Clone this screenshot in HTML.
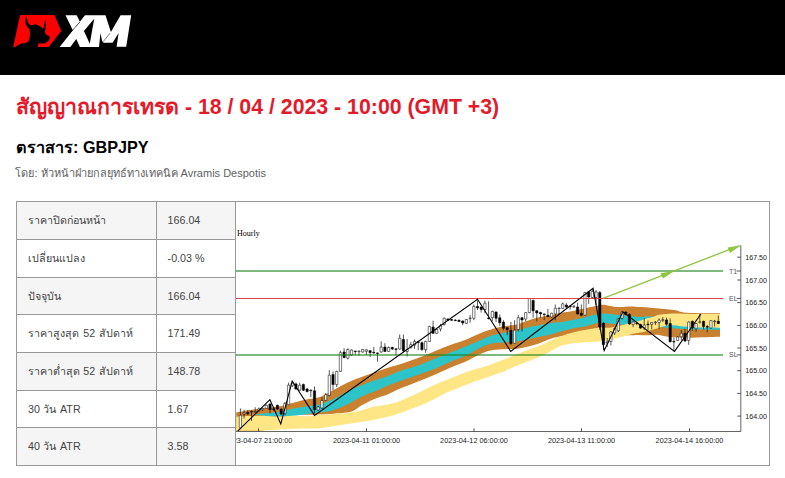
<!DOCTYPE html>
<html lang="th"><head><meta charset="utf-8"><title>XM</title>
<style>
html,body{margin:0;padding:0;background:#fff;}
body{width:785px;height:478px;overflow:hidden;position:relative;font-family:"Liberation Sans",sans-serif;}
.hdr{position:absolute;left:0;top:0;width:785px;height:75px;background:#000;}
.hdr svg{position:absolute;left:0;top:0;}
h1,h2,.by{position:absolute;left:16px;margin:0;white-space:nowrap;}
h1{top:92px;font-size:21.3px;line-height:30px;font-weight:bold;color:#e21b2b;}
h2{top:135px;font-size:16.2px;line-height:24px;font-weight:bold;color:#000;}
.by{left:15.4px;top:165px;font-size:11px;line-height:16px;color:#626262;}
.r{position:absolute;left:17px;width:218px;border-bottom:1px solid #999;background:#fff;font-size:10.7px;color:#444;white-space:nowrap;}
.r.g{background:#f5f5f5;}
.c1{position:absolute;left:0;top:0;width:140px;height:100%;border-right:1px solid #999;box-sizing:border-box;padding-left:11px;}
.c2{position:absolute;left:140px;top:0;width:78px;height:100%;box-sizing:border-box;padding-left:10.6px;}
.frame{position:absolute;left:16px;top:201px;width:754px;height:265px;border:1px solid #999;box-sizing:border-box;}
.vline{position:absolute;left:235px;top:201px;width:1px;height:265px;background:#999;}
.chart{position:absolute;left:236px;top:202px;width:533px;height:263px;overflow:hidden;}
</style></head><body>
<div class="hdr"><svg width="160" height="75" viewBox="0 0 160 75"><path d="M20.1 15.1 L54.4 15.1 L61.3 30.9 L48.7 47 L13.2 47 Z" fill="#f00"/><path d="M26.31 15.58C26.2 16.3 25.5 18.7 25.4 19.9C25.2 21.2 25.3 22.1 25.5 23.1C25.7 24.1 26.2 25.1 26.7 25.9C27.2 26.7 27.8 27.2 28.3 27.9C28.8 28.6 29.4 29.1 29.6 30.3C29.9 31.5 30.0 33.6 29.9 35.1C29.8 36.5 29.4 37.9 29.1 39.0C28.8 40.2 28.6 41.1 27.9 41.8C27.2 42.5 25.8 42.9 24.7 43.2C23.7 43.4 22.5 43.2 21.5 43.4C20.6 43.6 20.2 44.0 19.2 44.6C18.1 45.2 15.8 46.6 15.2 47.0L37.84 46.98C37.9 46.6 37.8 45.2 38.1 44.6C38.3 44.0 38.5 43.4 39.4 43.2C40.4 43.1 42.5 43.7 43.8 43.5C45.1 43.3 46.1 42.9 47.0 42.3C47.9 41.7 48.7 40.6 49.2 39.8C49.7 39.0 49.8 38.1 49.8 37.4C49.7 36.8 49.6 36.3 49.0 35.9C48.4 35.4 46.9 35.3 46.2 34.7C45.5 34.0 45.1 32.8 45.0 31.9C44.9 31.0 45.3 30.4 45.4 29.1C45.5 27.8 45.8 25.6 45.8 23.9C45.8 22.3 45.5 20.0 45.4 19.2C45.2 20.0 44.5 22.4 44.2 23.9C43.9 25.5 44.0 27.8 43.4 28.3C42.8 28.8 41.6 27.2 40.6 26.7C39.6 26.2 38.4 25.5 37.4 25.1C36.5 24.7 36.0 24.3 35.1 24.3C34.1 24.3 32.7 25.1 31.9 25.1C31.0 25.2 30.6 25.2 29.9 24.7C29.2 24.3 28.4 23.4 27.9 22.3C27.4 21.3 27.4 19.5 27.1 18.4C26.8 17.2 26.4 16.0 26.3 15.6Z" fill="#000"/><path d="M65.5 15.3 L76.7 15.3 L80 22 L76.3 26.5 L72.7 29.9 ZM59.6 47 L70.3 47 L76.3 39 L79.9 47 L99 47 L100.5 33.1 L102 40.7 L103.5 42.7 L112.6 42.7 L118.6 33.1 L116.6 46.7 L126.2 46.7 L131.2 15.3 L120.6 15.3 L110.9 32.1 L105.5 15.3 L85 15.3 Z" fill="#fff"/><path d="M94.2 18.8 L83.9 31.1 L89.8 43.8 Z" fill="#000"/><path d="M72.7 29.9 L79.6 22.2 M110.2 33 L103.2 41.6" stroke="#000" stroke-width="0.5" fill="none"/></svg></div>
<h1><span>สัญญาณการเทรด</span> - 18 / 04 / 2023 - 10:00 (GMT +3)</h1>
<h2><span>ตราสาร</span>: GBPJPY</h2>
<div class="by"><span>โดย:</span> <span>หัวหน้าฝ่ายกลยุทธ์ทางเทคนิค</span> Avramis Despotis</div>
<div class="r g" style="top:202px;height:37px"><div class="c1" style="line-height:37px"><span>ราคาปิดก่อนหน้า</span></div><div class="c2" style="line-height:37px">166.04</div></div><div class="r" style="top:240px;height:37px"><div class="c1" style="line-height:37px"><span>เปลี่ยนแปลง</span></div><div class="c2" style="line-height:37px">-0.03 %</div></div><div class="r g" style="top:278px;height:36px"><div class="c1" style="line-height:36px"><span>ปัจจุบัน</span></div><div class="c2" style="line-height:36px">166.04</div></div><div class="r" style="top:315px;height:37px"><div class="c1" style="line-height:37px"><span style="margin-right:1.3px">ราคาสูงสุด</span> 52 <span style="margin-left:0.5px">สัปดาห์</span></div><div class="c2" style="line-height:37px">171.49</div></div><div class="r g" style="top:353px;height:37px"><div class="c1" style="line-height:37px"><span style="margin-right:0.4px">ราคาต่ำสุด</span> 52 <span style="margin-left:0.8px">สัปดาห์</span></div><div class="c2" style="line-height:37px">148.78</div></div><div class="r" style="top:391px;height:36px"><div class="c1" style="line-height:36px">30 <span style="margin-left:0.5px;margin-right:0.7px">วัน</span> ATR</div><div class="c2" style="line-height:36px">1.67</div></div><div class="r g" style="top:428px;height:37px"><div class="c1" style="line-height:37px">40 <span style="margin-left:0.5px;margin-right:0.7px">วัน</span> ATR</div><div class="c2" style="line-height:37px">3.58</div></div>
<div class="chart"><svg width="533" height="263" viewBox="236 202 533 263" font-family="Liberation Sans, sans-serif"><rect x="236" y="202" width="533" height="263" fill="#fff"/><path d="M236.2 412.4C238.3 412.0 244.1 410.9 248.6 410.2C253.1 409.5 258.4 408.9 263.3 408.3C268.2 407.7 273.0 407.5 277.9 406.6C282.8 405.7 287.6 404.1 292.5 402.9C297.4 401.7 302.6 400.3 307.2 399.3C311.8 398.3 315.6 398.4 320.0 396.9C324.4 395.4 329.1 392.5 333.6 390.1C338.1 387.7 342.7 384.9 347.2 382.7C351.7 380.5 356.3 378.9 360.8 377.2C365.3 375.5 369.9 374.1 374.4 372.5C378.9 370.9 383.7 369.1 388.0 367.7C392.3 366.3 395.2 365.8 400.0 364.3C404.8 362.8 411.1 360.6 416.7 358.5C422.3 356.4 427.9 354.0 433.5 351.8C439.1 349.6 444.6 347.2 450.2 345.1C455.8 343.0 461.7 341.2 466.9 339.2C472.1 337.1 477.1 334.5 481.5 332.8C485.9 331.1 489.2 330.0 493.0 328.8C496.8 327.6 500.7 326.6 504.5 325.9C508.3 325.2 512.2 325.6 516.0 324.7C519.8 323.8 523.7 321.9 527.5 320.7C531.3 319.5 535.1 318.2 539.0 317.3C542.9 316.4 546.9 316.2 550.6 315.5C554.4 314.8 557.8 313.5 561.5 312.8C565.2 312.1 569.2 311.9 573.0 311.1C576.8 310.3 580.7 309.1 584.5 308.2C588.3 307.3 592.9 306.5 596.0 305.9C599.1 305.3 600.6 304.8 602.9 304.8C605.2 304.8 607.1 305.5 609.8 305.9C612.5 306.3 615.6 307.0 619.1 307.1C622.6 307.2 627.1 306.5 630.6 306.5C634.1 306.5 637.0 306.9 640.0 307.1C643.0 307.3 645.2 307.3 648.3 307.5C651.4 307.7 655.2 308.2 658.7 308.5C662.2 308.8 666.3 309.2 669.2 309.5C672.1 309.8 673.5 309.8 676.0 310.3C678.5 310.8 680.2 312.1 684.0 312.6C687.8 313.1 692.5 313.1 698.5 313.2C704.5 313.3 716.4 313.2 720.0 313.2L720.0 336.7C716.4 336.8 704.5 337.2 698.5 337.4C692.5 337.6 688.9 337.8 684.0 337.7C679.1 337.6 673.4 337.5 669.2 337.0C665.0 336.5 662.2 335.2 658.7 334.9C655.2 334.6 651.8 335.2 648.3 335.2C644.8 335.2 641.3 334.9 637.8 334.9C634.3 334.9 632.0 335.4 627.4 335.2C622.8 335.0 614.8 334.0 610.0 333.5C605.2 333.0 602.7 332.1 598.6 332.0C594.5 331.9 591.8 332.2 585.4 333.0C579.0 333.8 565.8 335.5 560.0 336.5C554.2 337.5 554.1 337.7 550.6 338.8C547.1 339.9 542.9 342.1 539.0 343.4C535.1 344.7 531.3 345.9 527.5 346.8C523.7 347.7 519.8 348.5 516.0 348.9C512.2 349.3 508.3 349.0 504.5 349.2C500.7 349.4 496.8 349.3 493.0 350.0C489.2 350.7 485.9 351.7 481.5 353.5C477.1 355.3 472.1 358.6 466.9 361.0C461.7 363.4 455.8 365.3 450.2 367.7C444.6 370.1 439.1 372.8 433.5 375.2C427.9 377.6 422.3 379.7 416.7 381.9C411.1 384.1 404.8 386.6 400.0 388.6C395.2 390.7 392.3 392.5 388.0 394.2C383.7 395.9 378.9 397.1 374.4 399.0C369.9 400.9 364.2 403.9 360.8 405.8C357.4 407.7 356.3 409.4 354.0 410.5C351.7 411.6 350.6 412.1 347.2 412.6C343.8 413.1 338.1 413.4 333.6 413.7C329.1 414.0 323.4 414.4 320.0 414.6C316.6 414.8 318.1 414.6 312.9 414.8C307.7 415.0 294.2 414.5 288.7 416.0C283.2 417.5 284.8 421.5 280.0 424.0C275.2 426.5 267.3 429.8 260.0 431.0C252.7 432.2 240.2 431.0 236.2 431.0Z" fill="#c9802f"/><path d="M256.0 414.6C257.2 414.4 259.7 414.0 263.3 413.6C266.9 413.2 273.0 412.9 277.9 412.1C282.8 411.3 287.6 409.8 292.5 408.8C297.4 407.8 302.6 407.0 307.2 406.3C311.8 405.6 315.6 405.6 320.0 404.4C324.4 403.2 329.1 401.1 333.6 399.0C338.1 396.9 342.7 393.8 347.2 391.5C351.7 389.2 356.3 387.2 360.8 385.4C365.3 383.6 369.9 382.2 374.4 380.6C378.9 379.0 383.7 377.5 388.0 375.9C392.3 374.3 395.2 372.6 400.0 371.0C404.8 369.4 411.1 367.9 416.7 366.0C422.3 364.1 427.9 361.5 433.5 359.3C439.1 357.1 444.6 354.8 450.2 352.6C455.8 350.4 461.7 348.0 466.9 345.9C472.1 343.8 477.1 341.5 481.5 339.7C485.9 337.9 489.2 336.2 493.0 335.1C496.8 334.0 500.7 333.5 504.5 332.8C508.3 332.1 512.2 332.0 516.0 331.1C519.8 330.2 523.7 328.6 527.5 327.6C531.3 326.6 535.1 326.1 539.0 325.3C542.9 324.5 546.9 323.6 550.6 323.0C554.4 322.4 557.8 322.6 561.5 322.0C565.2 321.4 569.2 320.5 573.0 319.7C576.8 318.9 580.7 318.2 584.5 317.4C588.3 316.5 592.9 315.3 596.0 314.6C599.1 313.9 600.6 313.5 602.9 313.4C605.2 313.3 607.1 313.7 609.8 314.0C612.5 314.3 615.6 314.7 619.1 315.1C622.6 315.5 627.1 316.0 630.6 316.3C634.1 316.6 637.0 316.8 640.0 316.9C643.0 316.9 645.9 316.6 648.3 316.6C650.7 316.6 652.3 316.4 654.6 317.0C656.9 317.6 659.5 319.0 662.0 320.0C664.5 321.0 665.6 322.2 669.3 323.0C673.0 323.8 679.1 324.5 684.0 325.0C688.9 325.5 692.5 325.8 698.5 326.0C704.5 326.2 716.4 326.4 720.0 326.5L720.0 329.7C716.4 329.7 704.5 329.6 698.5 329.5C692.5 329.4 688.9 329.3 684.0 329.0C679.1 328.7 674.2 328.3 669.3 327.9C664.4 327.5 659.5 326.9 654.6 326.5C649.7 326.1 644.5 325.8 640.0 325.5C635.5 325.2 630.9 324.9 627.4 324.8C623.9 324.7 622.0 324.8 619.1 324.6C616.2 324.4 612.5 323.9 609.8 323.6C607.1 323.3 605.2 323.0 602.9 322.9C600.6 322.8 599.1 322.6 596.0 323.2C592.9 323.8 588.3 325.7 584.5 326.6C580.7 327.5 576.8 327.6 573.0 328.4C569.2 329.2 565.2 330.3 561.5 331.3C557.8 332.3 554.4 333.5 550.6 334.4C546.9 335.3 542.9 336.0 539.0 336.8C535.1 337.6 531.3 338.6 527.5 339.4C523.7 340.2 519.8 340.9 516.0 341.4C512.2 341.9 508.3 342.3 504.5 342.6C500.7 342.9 496.8 342.5 493.0 343.2C489.2 343.9 485.9 345.0 481.5 347.0C477.1 349.0 472.1 352.6 466.9 355.1C461.7 357.6 455.8 359.4 450.2 361.8C444.6 364.2 439.1 367.1 433.5 369.3C427.9 371.5 422.3 373.2 416.7 375.2C411.1 377.1 404.8 379.3 400.0 381.0C395.2 382.7 392.3 383.6 388.0 385.4C383.7 387.1 378.9 389.6 374.4 391.5C369.9 393.4 365.3 394.8 360.8 396.9C356.3 399.0 351.7 402.2 347.2 404.4C342.7 406.6 338.1 408.5 333.6 409.9C329.1 411.3 324.4 411.9 320.0 412.6C315.6 413.3 311.8 413.4 307.2 413.9C302.6 414.4 297.4 415.3 292.5 415.7C287.6 416.1 282.8 416.5 277.9 416.5C273.0 416.5 266.9 415.9 263.3 415.7C259.7 415.5 257.2 415.2 256.0 415.1Z" fill="#2cc3c9"/><path d="M236.2 416.8C238.3 416.7 244.1 416.3 248.6 416.1C253.1 415.9 258.4 415.6 263.3 415.7C268.2 415.8 273.0 416.5 277.9 416.5C282.8 416.5 287.6 415.8 292.5 415.7C297.4 415.6 302.6 416.3 307.2 416.2C311.8 416.1 315.6 415.2 320.0 414.8C324.4 414.4 329.1 414.2 333.6 413.9C338.1 413.6 343.8 413.2 347.2 412.9C350.6 412.6 351.7 412.3 354.0 411.9C356.3 411.5 357.4 411.4 360.8 410.5C364.2 409.6 369.9 407.5 374.4 406.5C378.9 405.5 383.7 405.3 388.0 404.4C392.3 403.5 395.2 402.9 400.0 401.1C404.8 399.3 411.1 396.2 416.7 393.6C422.3 391.0 427.9 387.7 433.5 385.2C439.1 382.7 444.6 380.7 450.2 378.5C455.8 376.3 461.7 373.6 466.9 371.8C472.1 370.0 477.1 368.8 481.5 367.5C485.9 366.2 489.2 365.2 493.0 363.8C496.8 362.4 500.7 360.7 504.5 359.2C508.3 357.7 512.2 356.1 516.0 354.6C519.8 353.1 523.7 351.4 527.5 350.0C531.3 348.6 535.2 347.4 539.0 345.9C542.8 344.4 546.2 342.5 550.0 340.8C553.8 339.1 557.7 337.3 561.5 335.9C565.3 334.5 569.2 333.4 573.0 332.4C576.8 331.4 580.7 330.8 584.5 330.1C588.3 329.4 592.9 328.4 596.0 328.0C599.1 327.6 600.6 327.6 602.9 327.5C605.2 327.4 607.1 327.9 609.8 327.7C612.5 327.4 615.6 326.8 619.1 326.0C622.6 325.2 627.1 323.7 630.6 322.8C634.1 321.9 637.0 321.6 640.0 320.8C643.0 320.0 645.9 318.7 648.3 318.0C650.7 317.3 652.9 316.9 654.6 316.4C656.3 315.9 656.3 315.2 658.7 314.8C661.1 314.4 665.0 313.9 669.2 313.7C673.4 313.5 679.1 313.6 684.0 313.7C688.9 313.8 692.5 313.9 698.5 314.0C704.5 314.1 716.4 314.0 720.0 314.0L720.0 327.9C716.4 327.8 704.5 327.7 698.5 327.5C692.5 327.3 688.9 326.9 684.0 326.5C679.1 326.1 673.4 324.8 669.2 325.0C665.0 325.2 662.2 326.9 658.7 327.9C655.2 328.8 651.4 329.9 648.3 330.7C645.2 331.5 643.0 332.0 640.0 332.6C637.0 333.2 634.1 333.6 630.6 334.4C627.1 335.2 622.6 336.5 619.1 337.4C615.6 338.3 612.5 339.3 609.8 339.9C607.1 340.5 605.2 340.7 602.9 341.0C600.6 341.3 599.1 341.6 596.0 341.8C592.9 342.0 588.3 341.9 584.5 342.2C580.7 342.4 576.8 342.7 573.0 343.3C569.2 343.9 565.2 344.3 561.5 345.6C557.8 346.9 554.4 349.3 550.6 351.2C546.9 353.1 542.9 355.2 539.0 356.9C535.1 358.6 531.3 360.0 527.5 361.5C523.7 363.0 519.8 364.5 516.0 366.1C512.2 367.7 508.3 369.8 504.5 371.3C500.7 372.8 496.8 374.0 493.0 375.3C489.2 376.6 485.9 377.8 481.5 379.3C477.1 380.8 472.1 382.4 466.9 384.4C461.7 386.4 455.8 388.6 450.2 391.1C444.6 393.6 438.2 397.1 433.5 399.4C428.8 401.7 425.6 403.4 421.7 405.0C417.8 406.6 413.4 407.9 410.0 409.2C406.6 410.5 405.3 411.4 401.6 412.6C397.9 413.9 392.5 415.6 388.0 416.7C383.5 417.8 378.9 418.5 374.4 419.4C369.9 420.3 365.3 421.3 360.8 422.1C356.3 422.9 351.7 423.4 347.2 424.1C342.7 424.8 338.1 425.5 333.6 426.2C329.1 426.9 324.4 427.8 320.0 428.2C315.6 428.6 311.8 428.3 307.2 428.4C302.6 428.5 297.4 428.5 292.5 428.7C287.6 428.9 282.8 429.3 277.9 429.6C273.0 429.9 268.2 430.2 263.3 430.4C258.4 430.6 253.1 430.7 248.6 430.8C244.1 430.9 238.3 430.9 236.2 430.9Z" fill="#ffe684"/><path d="M240.4 408.4V428.5M244.1 409.7V418.5M247.8 410.0V415.0M251.5 410.3V421.0M255.2 407.2V412.8M258.9 407.5V411.5M262.6 407.5V411.0M266.3 404.5V409.0M270.0 403.4V413.4M273.7 407.0V411.0M277.4 404.5V410.0M281.2 408.5V415.3M284.9 402.1V415.3M288.6 382.7V405.3M292.3 381.0V387.0M296.0 382.5V390.0M299.7 382.7V390.8M303.4 383.5V391.0M307.1 388.0V392.5M310.8 389.5V397.1M314.5 386.4V413.4M318.2 406.0V411.0M321.9 397.0V409.0M325.6 393.0V401.0M329.3 370.2V396.5M333.0 371.4V390.3M336.7 370.8V387.1M340.4 350.7V372.0M344.1 348.2V358.2M347.8 348.5V359.5M351.6 349.4V356.0M355.3 350.7V355.1M359.0 350.7V355.7M362.7 349.0V352.6M366.4 349.4V355.1M370.1 350.0V357.0M373.8 346.9V353.8M377.5 352.6V361.6M381.2 341.3V352.6M384.9 343.2V352.0M388.6 346.5V352.0M392.3 346.8V350.0M396.0 348.5V355.2M399.7 334.5V349.6M403.4 334.5V352.1M407.1 339.0V356.5M410.8 342.0V348.3M414.5 339.5V349.0M418.2 340.8V350.2M421.9 341.4V350.8M425.6 340.8V352.7M429.4 325.7V342.0M433.1 320.7V333.9M436.8 328.5V334.0M440.5 323.8V331.4M444.2 317.5V325.5M447.9 318.4V321.0M451.6 319.0V321.0M455.3 319.3V321.2M459.0 319.6V322.0M462.7 320.4V325.2M466.4 319.0V324.0M470.1 315.1V322.7M473.8 304.5V320.2M477.5 300.7V310.1M481.2 306.4V312.6M484.9 300.7V313.3M488.6 301.3V319.5M492.3 310.7V321.4M496.0 311.4V322.0M499.8 314.5V325.8M503.5 320.2V330.2M507.2 327.2V335.2M510.9 322.0V345.0M514.6 320.2V344.0M518.3 315.1V331.5M522.0 317.0V331.5M525.7 312.0V321.4M529.4 298.2V313.3M533.1 299.5V317.7M536.8 310.1V321.4M540.5 311.8V317.7M544.2 313.5V320.2M547.9 308.9V317.0M551.6 312.7V317.7M555.3 304.5V320.2M559.0 307.6V313.9M562.7 302.6V308.9M566.4 303.2V308.9M570.1 305.7V309.5M573.9 305.4V308.0M577.6 302.6V314.5M581.3 304.5V316.4M585.0 291.9V315.8M588.7 291.3V303.9M592.4 289.5V299.0M596.1 290.0V305.1M599.8 291.0V330.0M603.5 322.0V350.0M607.2 338.0V347.0M610.9 331.0V345.5M614.6 327.5V335.0M618.3 318.0V332.0M622.0 311.2V319.5M625.7 311.4V315.2M629.4 313.3V325.0M633.1 321.4V327.1M636.8 322.0V325.0M640.5 323.8V329.0M644.2 318.4V330.1M648.0 320.6V330.1M651.7 322.0V329.4M655.4 321.0V325.0M659.1 318.4V328.7M662.8 317.0V322.1M666.5 317.7V325.7M670.2 318.4V342.4M673.9 337.4V351.3M677.6 336.0V341.1M681.3 330.1V340.4M685.0 328.7V341.8M688.7 321.3V344.8M692.4 320.5V330.9M696.1 322.8V331.6M699.8 314.0V323.5M703.5 320.6V329.4M707.2 325.0V332.3M710.9 320.0V328.7M714.6 319.9V326.5M718.3 315.5V324.0" stroke="#111" stroke-width="0.7" fill="none"/><path d="M239.25 415.3h2.3v12.6h-2.3zM242.96 412.8h2.3v1.3h-2.3zM254.07 411.4h2.3v0.6h-2.3zM257.78 409.0h2.3v1.9h-2.3zM261.48 408.4h2.3v1.3h-2.3zM265.19 405.3h2.3v3.1h-2.3zM283.71 403.4h2.3v10.0h-2.3zM287.42 385.2h2.3v19.5h-2.3zM291.12 383.3h2.3v2.5h-2.3zM298.53 385.2h2.3v5.0h-2.3zM317.06 407.0h2.3v3.0h-2.3zM320.76 400.5h2.3v7.5h-2.3zM324.47 394.8h2.3v5.5h-2.3zM328.17 375.2h2.3v20.3h-2.3zM335.58 371.4h2.3v13.2h-2.3zM339.29 352.6h2.3v18.8h-2.3zM346.70 349.4h2.3v8.8h-2.3zM350.40 350.0h2.3v5.0h-2.3zM357.81 351.0h2.3v0.6h-2.3zM361.52 349.4h2.3v2.6h-2.3zM365.22 349.8h2.3v1.5h-2.3zM380.04 347.0h2.3v5.0h-2.3zM387.45 347.4h2.3v4.0h-2.3zM398.57 338.3h2.3v10.7h-2.3zM405.98 349.6h2.3v1.9h-2.3zM409.68 344.6h2.3v3.1h-2.3zM413.38 341.4h2.3v3.8h-2.3zM424.50 341.4h2.3v8.2h-2.3zM428.21 326.4h2.3v15.0h-2.3zM435.62 329.5h2.3v3.8h-2.3zM439.32 325.7h2.3v3.2h-2.3zM443.03 318.2h2.3v6.3h-2.3zM465.25 319.5h2.3v3.8h-2.3zM468.96 318.0h2.3v0.6h-2.3zM472.67 306.4h2.3v11.9h-2.3zM483.78 303.2h2.3v6.3h-2.3zM491.19 311.4h2.3v6.3h-2.3zM513.42 330.2h2.3v13.2h-2.3zM517.12 317.7h2.3v11.9h-2.3zM524.54 312.6h2.3v6.4h-2.3zM528.24 298.6h2.3v14.0h-2.3zM550.47 313.3h2.3v3.7h-2.3zM554.18 308.3h2.3v5.6h-2.3zM557.88 308.0h2.3v0.6h-2.3zM561.59 303.9h2.3v4.4h-2.3zM572.70 306.1h2.3v0.6h-2.3zM583.82 292.6h2.3v22.6h-2.3zM591.23 291.5h2.3v6.0h-2.3zM594.93 292.0h2.3v5.6h-2.3zM606.05 342.0h2.3v1.0h-2.3zM609.75 332.0h2.3v9.5h-2.3zM613.46 328.5h2.3v4.5h-2.3zM617.16 319.0h2.3v11.8h-2.3zM620.87 312.0h2.3v6.3h-2.3zM631.98 322.0h2.3v2.6h-2.3zM643.10 325.1h2.3v2.7h-2.3zM650.50 322.6h2.3v1.8h-2.3zM654.21 322.0h2.3v0.6h-2.3zM657.92 320.0h2.3v2.6h-2.3zM661.62 319.7h2.3v0.6h-2.3zM676.44 337.1h2.3v3.3h-2.3zM680.14 333.3h2.3v3.4h-2.3zM687.56 322.1h2.3v18.3h-2.3zM694.97 323.5h2.3v5.2h-2.3zM698.67 321.8h2.3v0.6h-2.3zM709.79 320.6h2.3v7.3h-2.3zM713.49 321.0h2.3v0.6h-2.3z" fill="#fff" stroke="#111" stroke-width="0.55"/><path d="M246.66 412.4h2.3v1.3h-2.3zM250.37 411.5h2.3v0.6h-2.3zM268.89 404.0h2.3v5.7h-2.3zM272.60 408.8h2.3v0.6h-2.3zM276.30 405.3h2.3v3.7h-2.3zM280.01 409.0h2.3v5.0h-2.3zM294.83 383.9h2.3v5.1h-2.3zM302.24 384.6h2.3v5.6h-2.3zM305.94 389.0h2.3v2.5h-2.3zM309.65 390.2h2.3v0.6h-2.3zM313.35 390.8h2.3v18.9h-2.3zM331.88 374.6h2.3v10.0h-2.3zM342.99 352.0h2.3v5.6h-2.3zM354.11 351.0h2.3v0.6h-2.3zM368.93 350.7h2.3v1.9h-2.3zM372.63 352.3h2.3v0.6h-2.3zM376.34 352.9h2.3v0.6h-2.3zM383.75 347.0h2.3v4.4h-2.3zM391.16 347.4h2.3v1.6h-2.3zM394.86 348.8h2.3v0.6h-2.3zM402.27 339.5h2.3v11.3h-2.3zM417.09 341.8h2.3v0.6h-2.3zM420.80 342.7h2.3v6.9h-2.3zM431.91 327.0h2.3v6.3h-2.3zM446.73 319.0h2.3v1.3h-2.3zM450.44 319.6h2.3v0.6h-2.3zM454.14 320.0h2.3v0.6h-2.3zM457.85 320.2h2.3v1.3h-2.3zM461.55 321.0h2.3v1.9h-2.3zM476.37 306.4h2.3v1.5h-2.3zM480.08 307.0h2.3v2.5h-2.3zM487.49 318.0h2.3v0.6h-2.3zM494.90 312.0h2.3v6.3h-2.3zM498.60 317.7h2.3v5.0h-2.3zM502.31 322.0h2.3v6.3h-2.3zM506.01 327.7h2.3v1.9h-2.3zM509.72 330.2h2.3v13.2h-2.3zM520.83 317.7h2.3v2.3h-2.3zM531.95 300.4h2.3v10.4h-2.3zM535.65 310.8h2.3v2.1h-2.3zM539.36 312.4h2.3v1.5h-2.3zM543.06 313.9h2.3v0.6h-2.3zM546.76 315.2h2.3v1.5h-2.3zM565.29 305.1h2.3v1.9h-2.3zM569.00 306.1h2.3v0.6h-2.3zM576.41 307.0h2.3v6.9h-2.3zM580.11 313.3h2.3v1.9h-2.3zM587.52 291.9h2.3v5.1h-2.3zM598.63 292.6h2.3v34.4h-2.3zM602.34 323.3h2.3v21.2h-2.3zM624.57 312.0h2.3v2.5h-2.3zM628.28 314.5h2.3v9.5h-2.3zM635.69 323.0h2.3v0.6h-2.3zM639.39 324.4h2.3v3.7h-2.3zM646.80 324.1h2.3v0.6h-2.3zM665.33 319.9h2.3v4.4h-2.3zM669.03 323.5h2.3v18.3h-2.3zM672.74 341.5h2.3v0.6h-2.3zM683.85 333.3h2.3v7.8h-2.3zM691.26 321.3h2.3v6.7h-2.3zM702.38 321.3h2.3v5.2h-2.3zM706.08 326.6h2.3v0.6h-2.3zM717.20 321.3h2.3v2.2h-2.3z" fill="#000" stroke="#000" stroke-width="0.5"/><path d="M236 271h487M236 354.9h487" stroke="#1e821e" stroke-opacity="0.75" stroke-width="1.5" fill="none"/><path d="M236 298.4h487" stroke="#e2404b" stroke-width="1.05" fill="none"/><polyline points="237.7,431.2 269.9,399.7 280.8,423.9 292.2,381.0 314.5,415.4 477.5,299.2 510.7,351.4 593.1,288.3 604.2,350.5 622.9,311.8 674.5,351.4 700.9,314.0" fill="none" stroke="#000" stroke-width="1.05" stroke-linejoin="miter"/><path d="M603 298.3L739 245.9" stroke="#8dc63f" stroke-width="1.3" fill="none"/><path d="M741 245.2L727.6 247.5L730.1 253ZM674.7 270.7L660.5 273.3L663 278.6Z" fill="#8dc63f"/><path d="M236 431.5H741M740.8 245.2V431.5" stroke="#555" stroke-width="0.9" fill="none"/><path d="M258.5 431.5v-3.2M366.5 431.5v-3.2M474.0 431.5v-3.2M581.5 431.5v-3.2M689.5 431.5v-3.2M740.8 257.2h-3.6M740.8 280.0h-3.6M740.8 302.6h-3.6M740.8 325.4h-3.6M740.8 348.0h-3.6M740.8 370.7h-3.6M740.8 393.4h-3.6M740.8 416.1h-3.6M740.8 271h-4.2M740.8 298.4h-4.2M740.8 354.9h-4.2" stroke="#222" stroke-width="0.75" fill="none"/><g font-size="7.1" fill="#222"><text x="745.3" y="259.8">167.50</text><text x="745.3" y="282.6">167.00</text><text x="745.3" y="305.2">166.50</text><text x="745.3" y="328.0">166.00</text><text x="745.3" y="350.6">165.50</text><text x="745.3" y="373.3">165.00</text><text x="745.3" y="396.0">164.50</text><text x="745.3" y="418.7">164.00</text><text x="258.5" y="443" text-anchor="middle" font-size="7.3">2023-04-07 21:00:00</text><text x="366.5" y="443" text-anchor="middle" font-size="7.3">2023-04-11 01:00:00</text><text x="474" y="443" text-anchor="middle" font-size="7.3">2023-04-12 06:00:00</text><text x="581.5" y="443" text-anchor="middle" font-size="7.3">2023-04-13 11:00:00</text><text x="689.5" y="443" text-anchor="middle" font-size="7.3">2023-04-14 16:00:00</text></g><g font-size="7" fill="#555"><text x="729" y="273.6">T1</text><text x="729" y="300.9">EL</text><text x="729" y="357.4">SL</text></g><text x="237" y="235.5" font-family="Liberation Serif, serif" font-size="8" fill="#000">Hourly</text></svg></div>
<div class="frame"></div>
<div class="vline"></div>
</body></html>
